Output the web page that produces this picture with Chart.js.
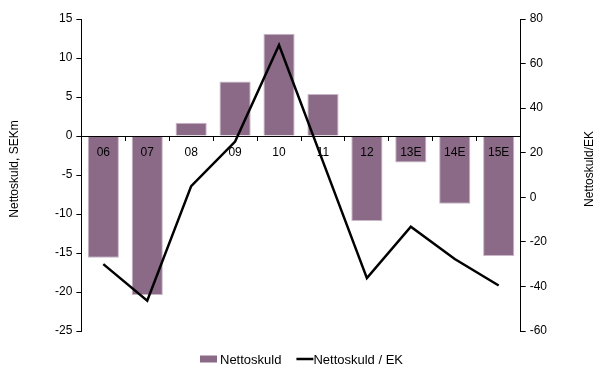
<!DOCTYPE html>
<html>
<head>
<meta charset="utf-8">
<script src="https://cdn.jsdelivr.net/npm/chart.js@4"></script>
<style>
  html, body { margin: 0; padding: 0; background: #fff; }
  #wrap { width: 599px; height: 368px; }
</style>
</head>
<body>
<div id="wrap"><canvas id="chart" width="599" height="368"></canvas></div>
<script>
const years = ["06", "07", "08", "09", "10", "11", "12", "13E", "14E", "15E"];
const nettoskuld = [-15.6, -20.4, 1.7, 7.0, 13.1, 5.4, -10.9, -3.4, -8.7, -15.4];
const skuldEk = [-30, -46.4, 5, 25, 68.3, 16, -36.3, -13.2, -27.7, -39.6];

const barColor = "#8b6a87";
const fam = "'Liberation Sans', Arial, sans-serif";
const font = { family: fam, size: 12 };

// axis titles (both read bottom-to-top) and the legend row
const extras = {
    id: "extras",
    afterDraw(chart) {
        const { ctx, chartArea } = chart;
        const midY = (chartArea.top + chartArea.bottom) / 2 - 6;
        ctx.save();
        ctx.fillStyle = "#000";
        ctx.font = "12px " + fam;
        ctx.textAlign = "center";
        ctx.textBaseline = "middle";
        [[15, "Nettoskuld, SEKm"], [590, "Nettoskuld/EK"]].forEach(([x, t]) => {
            ctx.save();
            ctx.translate(x, midY);
            ctx.rotate(-Math.PI / 2);
            ctx.fillText(t, 0, 0);
            ctx.restore();
        });

        // legend
        const ds = chart.data.datasets;
        ctx.font = "13px " + fam;
        ctx.textAlign = "left";
        const y = 359;
        const w1 = ctx.measureText(ds[0].label).width;
        const w2 = ctx.measureText(ds[1].label).width;
        const total = 17 + 3 + w1 + 15 + 17 + w2;
        let x = Math.round(chart.width / 2 + 2 - total / 2);
        ctx.fillStyle = barColor;
        ctx.fillRect(x, y - 3.5, 17, 7);
        ctx.fillStyle = "#000";
        ctx.fillText(ds[0].label, x + 20, y + 1);
        x += 20 + w1 + 15;
        ctx.strokeStyle = "#000";
        ctx.lineWidth = 2.5;
        ctx.beginPath();
        ctx.moveTo(x, y);
        ctx.lineTo(x + 17, y);
        ctx.stroke();
        ctx.fillText(ds[1].label, x + 17, y + 1);
        ctx.restore();
    }
};

new Chart(document.getElementById("chart"), {
    data: {
        labels: years,
        datasets: [
            {
                type: "bar",
                label: "Nettoskuld",
                data: nettoskuld,
                yAxisID: "y",
                backgroundColor: barColor,
                borderColor: "#c9b6c6",
                borderWidth: 1,
                barPercentage: 0.71,
                categoryPercentage: 1,
                order: 2
            },
            {
                type: "line",
                label: "Nettoskuld / EK",
                data: skuldEk,
                yAxisID: "y2",
                borderColor: "#000",
                backgroundColor: "#000",
                borderWidth: 2.5,
                pointRadius: 0,
                tension: 0,
                order: 1
            }
        ]
    },
    options: {
        responsive: false,
        animation: false,
        layout: { padding: { left: 51, right: 48, top: 19, bottom: 37 } },
        plugins: {
            tooltip: { enabled: false },
            legend: { display: false }
        },
        scales: {
            x: {
                position: { y: 0 },
                grid: { offset: true, drawOnChartArea: false, tickLength: 4, color: "#000", z: 1 },
                border: { color: "#000", z: 1 },
                ticks: { color: "#000", font: font, padding: 5, z: 1 }
            },
            y: {
                position: "left",
                min: -25,
                max: 15,
                ticks: { stepSize: 5, color: "#000", font: font, padding: 4 },
                grid: { drawOnChartArea: false, tickLength: 5, color: "#000" },
                border: { color: "#000" }
            },
            y2: {
                position: "right",
                min: -60,
                max: 80,
                ticks: { stepSize: 20, color: "#000", font: font, padding: 4 },
                grid: { drawOnChartArea: false, tickLength: 5, color: "#000" },
                border: { color: "#000" }
            }
        }
    },
    plugins: [extras]
});
</script>
</body>
</html>
